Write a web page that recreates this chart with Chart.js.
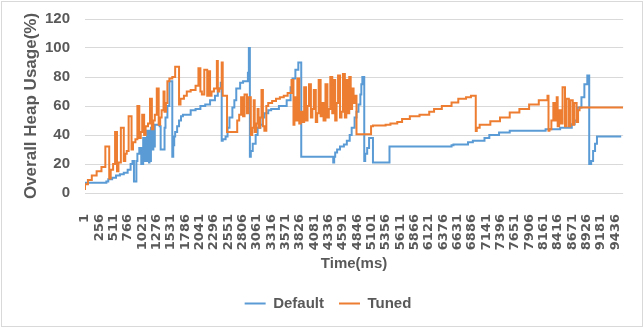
<!DOCTYPE html>
<html>
<head>
<meta charset="utf-8">
<script src="https://cdn.jsdelivr.net/npm/chart.js@4/dist/chart.umd.min.js"></script>
<style>
  html, body { margin: 0; padding: 0; background: #ffffff; }
  #wrap { width: 644px; height: 331px; position: relative; }
</style>
</head>
<body>
<div id="wrap"><canvas id="heapChart" width="644" height="331"></canvas></div>
<script>
// Category labels shown along the time axis (ms)
const timeTicks = [1, 256, 511, 766, 1021, 1276, 1531, 1786, 2041, 2296, 2551, 2806, 3061, 3316,
  3571, 3826, 4081, 4336, 4591, 4846, 5101, 5356, 5611, 5866, 6121, 6376, 6631, 6886, 7141,
  7396, 7651, 7906, 8161, 8416, 8671, 8926, 9181, 9436];
const timeEnd = 9575;

// Default GC settings: time (ms) where the heap level changes, and the new level (%)
const defaultTime = [1, 36, 381, 415, 484, 553, 622, 691, 760, 812,
  846, 872, 881, 915, 933, 967, 1002, 1010, 1036, 1045,
  1071, 1079, 1105, 1114, 1140, 1148, 1174, 1183, 1209, 1217,
  1243, 1252, 1329, 1347, 1364, 1416, 1433, 1467, 1502, 1519,
  1554, 1571, 1588, 1605, 1640, 1674, 1709, 1743, 1881, 1968,
  2054, 2140, 2226, 2313, 2364, 2416, 2433, 2451, 2502, 2537,
  2571, 2623, 2658, 2692, 2761, 2813, 2899, 2916, 2934, 2951,
  2985, 3037, 3072, 3123, 3158, 3192, 3261, 3313, 3451, 3589,
  3658, 3693, 3744, 3796, 3848, 3865, 4417, 4434, 4452, 4486,
  4538, 4607, 4659, 4710, 4745, 4797, 4831, 4866, 4900, 4917,
  4935, 4969, 4986, 5021, 5055, 5090, 5124, 5142, 5418, 5435,
  6522, 6556, 6815, 6901, 7108, 7194, 7367, 7557, 7815, 8195,
  8454, 8661, 8712, 8764, 8833, 8885, 8937, 8971, 9006, 9040,
  9075, 9109, 9144, 9540];
const defaultHeap = [4, 7, 7, 8, 9.5, 10.5, 12, 13, 14, 16,
  20, 22, 8, 8, 22, 27, 31, 20, 20, 38,
  38, 22, 22, 43, 43, 21, 22, 45, 45, 30,
  32, 47, 47, 46, 30, 30, 45, 52, 60, 77,
  77, 25, 33, 39, 42, 46, 50, 53, 54, 57,
  58, 60, 61, 64, 67, 72, 76, 36, 37, 39,
  45, 52, 59, 64, 72, 76, 77, 83, 100, 25,
  29, 34, 40, 45, 47, 52, 55, 57, 58, 60,
  64, 73, 79, 85, 90, 25, 25, 21, 25, 28,
  30, 32, 33.5, 36, 40, 45, 52, 56, 61, 68,
  75, 80, 22, 27, 31, 38, 38, 21, 21, 32,
  32, 33, 33.5, 35, 36, 38, 40, 41.7, 43, 43,
  44, 45, 47.5, 50, 59, 66, 75, 81, 20, 22,
  29, 34, 39, 39];

// Tuned GC settings
const tunedTime = [1, 53, 122, 208, 294, 363, 432, 458, 501, 536,
  570, 596, 639, 691, 717, 743, 777, 829, 855, 898,
  933, 967, 993, 1019, 1053, 1079, 1122, 1157, 1191, 1217,
  1243, 1278, 1312, 1338, 1364, 1398, 1416, 1441, 1467, 1502,
  1554, 1605, 1674, 1700, 1761, 1812, 1881, 1968, 2019, 2054,
  2080, 2123, 2175, 2200, 2226, 2252, 2295, 2347, 2364, 2390,
  2433, 2451, 2528, 2709, 2744, 2778, 2813, 2839, 2882, 2908,
  2951, 2977, 3003, 3020, 3046, 3072, 3089, 3115, 3141, 3166,
  3192, 3227, 3261, 3330, 3399, 3468, 3537, 3606, 3675, 3710,
  3727, 3762, 3779, 3813, 3839, 3865, 3900, 3934, 3960, 3986,
  4020, 4046, 4072, 4107, 4132, 4158, 4193, 4219, 4245, 4279,
  4314, 4339, 4365, 4400, 4426, 4452, 4477, 4503, 4538, 4564,
  4590, 4624, 4650, 4676, 4702, 4728, 4753, 4779, 4805, 4831,
  5090, 5124, 5349, 5435, 5556, 5642, 5780, 5952, 6125, 6211,
  6349, 6522, 6642, 6780, 6867, 6953, 6970, 7022, 7212, 7384,
  7557, 7729, 7902, 8074, 8229, 8247, 8264, 8298, 8333, 8367,
  8393, 8410, 8436, 8471, 8497, 8540, 8566, 8609, 8635, 8678,
  8704, 8747, 8773, 8799, 8833, 9575];
const tunedHeap = [2, 6, 9, 12, 15, 18, 32, 10, 16, 20,
  42, 15, 21, 45, 22, 27, 29, 53, 30, 35,
  37, 60, 38, 42, 54, 40, 46, 48, 65, 44,
  50, 54, 72, 47, 52, 57, 70, 56, 62, 77,
  79, 80, 87, 61, 65, 67, 70, 71, 74, 86,
  70, 68, 85, 67, 84, 67, 70, 72, 91, 70,
  72, 90, 67, 42, 50, 54, 66, 53, 68, 55,
  66, 40, 45, 64, 42, 48, 58, 45, 52, 71,
  46, 43, 60, 62, 63.5, 65, 66, 67, 69, 78,
  47, 66, 50, 79, 48, 56, 49, 73, 50, 60,
  75, 52, 58, 71, 49, 55, 78, 53, 62, 50,
  75, 52, 58, 80, 55, 78, 50, 62, 81, 52,
  56, 82, 52, 78, 55, 80, 58, 72, 62, 67,
  40.5, 46, 46.5, 47, 48, 49, 51, 53, 54, 56,
  58, 60, 62.5, 65, 66, 67, 42.8, 45, 47, 49.5,
  52, 55.5, 58, 61, 64, 67, 43, 44, 50, 62,
  50, 66, 46, 57, 48, 73, 46, 65, 46, 64,
  47, 62, 49, 57, 59, 59];

const TEXT = '#595959';
const GRID = '#D9D9D9';
const toPoints = (xs, ys) => xs.map((x, i) => ({ x: x, y: ys[i] }));

// Thin light frame around the whole chart
const frame = {
  id: 'frame',
  afterDraw(chart) {
    const c = chart.ctx;
    c.save();
    c.strokeStyle = GRID;
    c.lineWidth = 1;
    c.strokeRect(1.5, 1.5, 641, 325);
    c.restore();
  }
};

// Nudge the legend row a little to the right of the canvas centre
const legendShift = {
  id: 'legendShift',
  afterLayout(chart) {
    if (chart.legend) {
      chart.legend.left += 8;
      chart.legend.right += 8;
    }
  }
};

new Chart(document.getElementById('heapChart').getContext('2d'), {
  type: 'line',
  data: {
    datasets: [
      {
        label: 'Default',
        data: toPoints(defaultTime, defaultHeap),
        borderColor: '#5B9BD5',
        backgroundColor: '#5B9BD5',
        borderWidth: 2,
        pointRadius: 0,
        stepped: 'after',
        order: 1
      },
      {
        label: 'Tuned',
        data: toPoints(tunedTime, tunedHeap),
        borderColor: '#ED7D31',
        backgroundColor: '#ED7D31',
        borderWidth: 2,
        pointRadius: 0,
        stepped: 'after',
        order: 0
      }
    ]
  },
  options: {
    responsive: false,
    animation: false,
    events: [],
    layout: { padding: { left: 0, right: 4, top: 19, bottom: 10 } },
    plugins: {
      legend: {
        position: 'bottom',
        labels: {
          usePointStyle: true,
          pointStyle: 'line',
          pointStyleWidth: 21,
          padding: 15,
          color: TEXT,
          font: { family: 'Liberation Sans', weight: 'bold', size: 15 },
          sort: (a, b) => a.datasetIndex - b.datasetIndex
        }
      },
      tooltip: { enabled: false }
    },
    scales: {
      x: {
        type: 'linear',
        min: 1,
        max: timeEnd,
        afterBuildTicks: (s) => { s.ticks = timeTicks.map(v => ({ value: v })); },
        afterFit: (s) => { s.height = 88; },
        grid: { display: false },
        border: { display: false },
        ticks: {
          autoSkip: false,
          minRotation: 90,
          maxRotation: 90,
          padding: 13,
          color: TEXT,
          font: { family: 'DejaVu Sans', weight: 'bold', size: 13 },
          callback: (v) => String(v)
        },
        title: {
          display: true,
          text: 'Time(ms)',
          color: TEXT,
          font: { family: 'Liberation Sans', weight: 'bold', size: 15 },
          padding: { top: 0, bottom: 8 }
        }
      },
      y: {
        min: 0,
        max: 120,
        afterFit: (s) => { s.width = 85; s.paddingTop = 4; },
        grid: { color: GRID, lineWidth: 1, drawTicks: false },
        border: { display: false },
        ticks: {
          stepSize: 20,
          padding: 15,
          color: TEXT,
          font: { family: 'Liberation Sans', weight: 'bold', size: 15 }
        },
        title: {
          display: true,
          text: 'Overall Heap Usage(%)',
          color: TEXT,
          font: { family: 'Liberation Sans', weight: 'bold', size: 17 },
          padding: { top: 21, bottom: 0 }
        }
      }
    }
  },
  plugins: [frame, legendShift]
});
</script>
</body>
</html>
